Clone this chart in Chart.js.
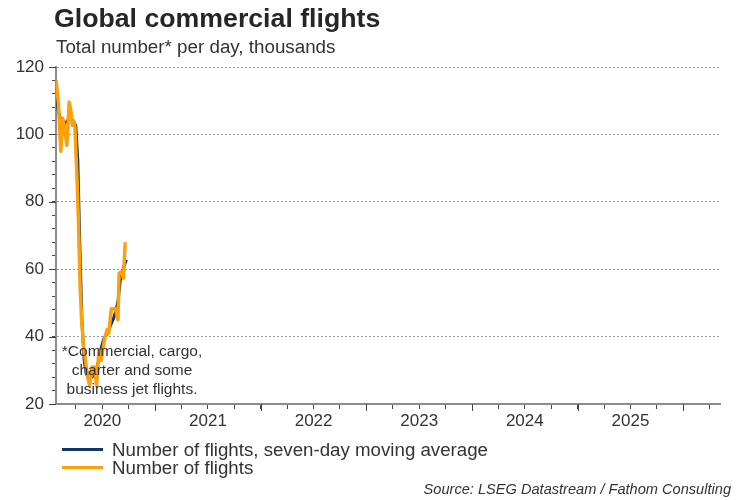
<!DOCTYPE html>
<html><head><meta charset="utf-8">
<script src="https://cdn.jsdelivr.net/npm/chart.js@4.4.1/dist/chart.umd.min.js"></script>
<style>
html,body{margin:0;padding:0;background:#fff;}
#wrap{position:relative;width:750px;height:500px;font-family:"Liberation Sans",Arial,sans-serif;color:#333;overflow:hidden;}
canvas{position:absolute;left:0;top:0;}
.t{position:absolute;white-space:nowrap;line-height:1;}
.sw{position:absolute;height:3px;width:41px;}
</style></head><body>
<div id="wrap">
<canvas id="c" width="750" height="500"></canvas>
<div class="t" style="left:54px;top:4.5px;font-size:26.7px;font-weight:bold;color:#262626">Global commercial flights</div>
<div class="t" style="left:56px;top:38px;font-size:18.8px">Total number* per day, thousands</div>
<div class="t" style="left:47px;top:341px;width:170px;font-size:15.5px;line-height:19px;text-align:center">*Commercial, cargo,<br>charter and some<br>business jet flights.</div>
<div class="sw" style="left:62px;top:448px;background:#0b3866"></div>
<div class="t" style="left:112px;top:441px;font-size:18.7px">Number of flights, seven-day moving average</div>
<div class="sw" style="left:62px;top:466px;background:#ff9f0a"></div>
<div class="t" style="left:112px;top:459px;font-size:18.7px">Number of flights</div>
<div class="t" style="right:19px;top:482px;font-size:14.6px;font-style:italic">Source: LSEG Datastream / Fathom Consulting</div>
</div>
<script>
// Number of flights (thousands per day)
const flightDates = ["2020-01-24","2020-02-01","2020-02-09","2020-02-16","2020-02-22","2020-03-01","2020-03-09","2020-03-15","2020-03-20","2020-03-24","2020-03-29","2020-04-05","2020-04-10","2020-04-16","2020-04-21","2020-04-28","2020-05-12","2020-05-19","2020-05-28","2020-06-04","2020-06-12","2020-06-20","2020-06-28","2020-07-09","2020-07-18","2020-07-24","2020-08-02","2020-08-16","2020-08-25","2020-08-29","2020-09-08","2020-09-13","2020-09-19"];
const flightValues = [116,109,95,104.7,102,96.8,109.6,107,102.7,104,102,87.4,74.5,54.8,45,37,28,25.5,31,31,25.5,36,33,39,42,41,48.3,48.3,45,58.8,59.3,57.3,68];
// Seven-day moving average (thousands per day)
const maDates = ["2020-01-24","2020-01-31","2020-02-10","2020-02-20","2020-03-02","2020-03-12","2020-03-23","2020-04-01","2020-04-08","2020-04-14","2020-04-22","2020-04-30","2020-05-07","2020-05-17","2020-05-28","2020-06-07","2020-06-20","2020-06-29","2020-07-08","2020-07-19","2020-07-29","2020-08-10","2020-08-19","2020-08-26","2020-09-02","2020-09-13","2020-09-23"];
const maValues = [112,107,104,103,104,105,104,102.5,92,70,45,33,29,27.5,28,29,33,37,39.5,41,43,45.5,48,51,56.7,60.3,62.8];
const yearLabels = ["2020","2021","2022","2023","2024","2025"];
const yTickLabels = [20,40,60,80,100,120];
const seriesNames = ["Number of flights, seven-day moving average","Number of flights"];

function toYear(s){
  const y=+s.slice(0,4), m=+s.slice(5,7)-1, d=+s.slice(8,10);
  const t=Date.UTC(y,m,d), a=Date.UTC(y,0,1), b=Date.UTC(y+1,0,1);
  return y+(t-a)/(b-a);
}
const pts=(ds,vs)=>ds.map((d,i)=>({x:toYear(d),y:vs[i]}));

const majorTicks={
  id:'majorTicks',
  afterDraw(chart){
    const xs=chart.scales.x, ctx=chart.ctx, b=chart.chartArea.bottom;
    ctx.save(); ctx.strokeStyle='#444'; ctx.lineWidth=1;
    for(let y=2021;y<=2026;y++){
      const px=Math.round(xs.getPixelForValue(y))+0.5;
      ctx.beginPath(); ctx.moveTo(px,b); ctx.lineTo(px,b+7); ctx.stroke();
    }
    const ys=chart.scales.y, l=chart.chartArea.left;
    yTickLabels.forEach(v=>{
      const py=Math.round(ys.getPixelForValue(v))+0.5;
      ctx.beginPath(); ctx.moveTo(l-7,py); ctx.lineTo(l,py); ctx.stroke();
    });
    ctx.restore();
  }
};

new Chart(document.getElementById('c'),{
  type:'line',
  data:{datasets:[
    {label:seriesNames[0],data:pts(maDates,maValues),borderColor:'#0b3866',borderWidth:3,pointRadius:0,tension:0,order:1,borderJoinStyle:'round'},
    {label:seriesNames[1],data:pts(flightDates,flightValues),borderColor:'#ff9f0a',borderWidth:3.5,pointRadius:0,tension:0,order:0,borderJoinStyle:'round'}
  ]},
  options:{
    responsive:false,animation:false,devicePixelRatio:1,
    layout:{padding:{left:0,right:30,top:67,bottom:66}},
    plugins:{legend:{display:false},tooltip:{enabled:false}},
    scales:{
      x:{type:'linear',min:2020.061,max:2026.348,
        afterBuildTicks(s){const t=[];for(let v=2020.25;v<2026.35;v+=0.25)t.push({value:Math.round(v*100)/100});s.ticks=t;},
        afterFit(s){s.height=30;},
        ticks:{autoSkip:false,maxRotation:0,minRotation:0,padding:2,color:'#333',font:{family:'Liberation Sans',size:17},
          callback(v){const f=v-Math.floor(v);if(Math.abs(f-0.5)<1e-6){const i=yearLabels.indexOf(String(Math.floor(v)));return i>=0?yearLabels[i]:'';}return '';}},
        grid:{drawOnChartArea:false,tickLength:5,tickColor:'#444',tickWidth:1},
        border:{color:'#8c8c8c',width:2}
      },
      y:{min:20,max:120,
        afterBuildTicks(s){const t=[];for(let v=20;v<=120;v+=4)t.push({value:v});s.ticks=t;},
        afterFit(s){s.width=56;},
        ticks:{autoSkip:false,padding:8,color:'#333',font:{family:'Liberation Sans',size:17},
          callback(v){return yTickLabels.includes(v)?String(v):'';}},
        grid:{drawOnChartArea:true,tickLength:4,tickColor:'#444',tickWidth:1,
          color(c){const v=c.tick&&c.tick.value;return (v%20===0&&v!==20)?'#9a9a9a':'rgba(0,0,0,0)';}},
        border:{color:'#8c8c8c',width:2,dash:[2,2]}
      }
    }
  },
  plugins:[majorTicks]
});
</script>
</body></html>
